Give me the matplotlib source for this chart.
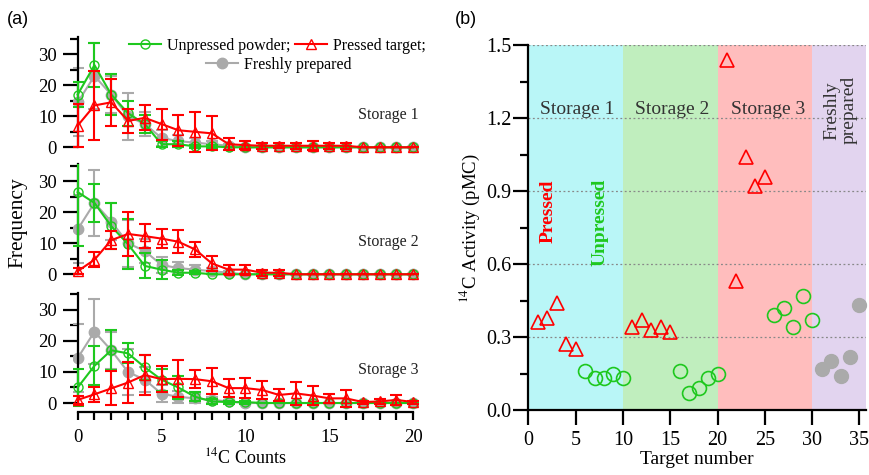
import numpy as np
import matplotlib
matplotlib.use("Agg")
import matplotlib.pyplot as plt
from matplotlib.ticker import MultipleLocator, FormatStrFormatter
from matplotlib.lines import Line2D

plt.rcParams['font.family'] = ['Liberation Serif', 'DejaVu Serif']
plt.rcParams['mathtext.fontset'] = 'stix'

# ---------------- data: panel (a) ----------------
counts = np.arange(21)

unp_s1 = [17, 26.5, 17, 11, 7.5, 1, 1, 0.3, 0.3, 0, 0, 0, 0, 0, 0, 0, 0, 0, 0, 0, 0]
unp_s1_err = [4, 7, 6.5, 4, 3, 1, 1, 0.5, 0.5, 0, 0, 0, 0, 0, 0, 0, 0, 0, 0, 0, 0]
pre_s1 = [7, 13.5, 14.5, 8.5, 9.5, 7.5, 5.5, 5, 4.5, 1, 0.7, 0.5, 0.5, 0.5, 0.5, 0.5, 0.5, 0, 0, 0, 0]
pre_s1_err = [7, 11, 7.5, 4, 4, 5, 5, 6.5, 5.5, 2, 1.3, 1, 0.8, 1, 1.5, 1, 1, 0, 0, 0, 0]

unp_s2 = [26.5, 23, 15.5, 9.7, 2.7, 1.5, 0.5, 0.5, 0, 0, 0, 0, 0, 0, 0, 0, 0, 0, 0, 0, 0]
unp_s2_err = [17.5, 6, 7.5, 8, 4, 3, 0.8, 0.5, 0, 0, 0, 0, 0, 0, 0, 0, 0, 0, 0, 0, 0]
pre_s2 = [1, 4.7, 11, 13, 12.3, 11.5, 10.5, 8, 3.5, 1.5, 1.5, 0.5, 0.5, 0, 0, 0, 0, 0, 0, 0, 0]
pre_s2_err = [1, 2.4, 3, 7, 3.8, 3, 3.7, 2.5, 2.3, 1.5, 1.5, 1, 1, 0, 0, 0, 0, 0, 0, 0, 0]

unp_s3 = [5, 12, 17, 16, 11.5, 7.5, 5, 2, 0.5, 0.3, 0.3, 0, 0, 0, 0, 0, 0, 0, 0, 0, 0]
unp_s3_err = [6, 6.3, 6.5, 3.2, 4, 3.5, 3.7, 1.5, 0.8, 0.5, 0.5, 0, 0, 0, 0, 0, 0, 0, 0, 0, 0]
pre_s3 = [1, 2.8, 4.7, 6.6, 9, 7.7, 7.8, 7.7, 7, 4.8, 4.8, 4.2, 2.6, 3.1, 2.4, 1.5, 1.5, 0.3, 0.5, 1, 0.3]
pre_s3_err = [1.2, 2.5, 5.5, 6.5, 6.5, 4.2, 6, 3, 4.2, 3, 3.3, 3, 2, 3.7, 3, 1.5, 2.7, 0.5, 0.8, 1.5, 0.5]

fresh = [14.5, 23, 17, 10, 7.5, 3, 2, 1.5, 1, 0.5, 0, 0, 0, 0, 0, 0, 0, 0, 0, 0, 0]
fresh_err = [11, 10.5, 6, 7.5, 4, 2.7, 2, 1.5, 1, 0.5, 0, 0, 0, 0, 0, 0, 0, 0, 0, 0, 0]

storage_names = ['Storage 1', 'Storage 2', 'Storage 3']

# ---------------- data: panel (b) ----------------
pressed_x = [1, 2, 3, 4, 5, 11, 12, 13, 14, 15, 21, 22, 23, 24, 25]
pressed_y = [0.36, 0.38, 0.44, 0.27, 0.25, 0.34, 0.37, 0.33, 0.34, 0.32, 1.44, 0.53, 1.04, 0.92, 0.96]
unpressed_x = [6, 7, 8, 9, 10, 16, 17, 18, 19, 20, 26, 27, 28, 29, 30]
unpressed_y = [0.16, 0.13, 0.13, 0.15, 0.13, 0.16, 0.07, 0.09, 0.13, 0.15, 0.39, 0.42, 0.34, 0.47, 0.37]
fresh_x = [31, 32, 33, 34, 35]
fresh_y = [0.17, 0.20, 0.14, 0.22, 0.43]

band_edges = [0, 10, 20, 30, 35.7]
band_colors = ['#b9f6f7', '#c0eebe', '#ffbdbd', '#e2d4ef']
band_labels = ['Storage 1', 'Storage 2', 'Storage 3', 'Freshly\nprepared']

green = '#1ec81e'
red = '#ff0000'
grey = '#aaaaaa'

fig = plt.figure(figsize=(8.69, 4.75), dpi=100)

# ---------------- panel (a) ----------------
panel_bottoms = [0.6768, 0.4095, 0.1385]
series = [(unp_s1, unp_s1_err, pre_s1, pre_s1_err),
          (unp_s2, unp_s2_err, pre_s2, pre_s2_err),
          (unp_s3, unp_s3_err, pre_s3, pre_s3_err)]

left_axes = []
for i, (unp, unp_err, pre, pre_err) in enumerate(series):
    ax = fig.add_axes([0.0836, panel_bottoms[i], 0.3977, 0.2449])
    left_axes.append(ax)
    kw = dict(capsize=4.5, lw=1.5, elinewidth=1.5, capthick=1.5)
    ax.errorbar(counts, fresh, yerr=fresh_err, color=grey, marker='o', ms=7.5,
                mfc=grey, mec=grey, zorder=2, **kw)
    ax.errorbar(counts, unp, yerr=unp_err, color=green, marker='o', ms=6.5,
                mfc='none', mec=green, zorder=3, **kw)
    ax.errorbar(counts, pre, yerr=pre_err, color=red, marker='^', ms=6.5,
                mfc='none', mec=red, zorder=4, **kw)
    ax.set_xlim(-0.3, 20.3)
    ax.set_ylim(-2, 35.5)
    ax.spines['left'].set_position(('data', 0))
    ax.spines['left'].set_bounds(0, 35.5)
    for s in ['top', 'right']:
        ax.spines[s].set_visible(False)
    ax.spines['left'].set_linewidth(1.6)
    ax.yaxis.set_major_locator(MultipleLocator(10))
    ax.yaxis.set_minor_locator(MultipleLocator(5))
    ax.tick_params(axis='y', which='major', direction='out', length=11, width=1.6,
                   labelsize=13.5, pad=4)
    ax.tick_params(axis='y', which='minor', direction='out', length=6, width=1.6)
    ax.text(1.0, 10.5, storage_names[i], transform=ax.get_yaxis_transform(),
            ha='right', va='center', fontsize=11.5, color='#222222')
    if i < 2:
        ax.spines['bottom'].set_visible(False)
        ax.tick_params(axis='x', which='both', bottom=False, labelbottom=False)
    else:
        ax.spines['bottom'].set_position(('outward', 2))
        ax.spines['bottom'].set_bounds(0, 20)
        ax.spines['bottom'].set_linewidth(1.6)
        ax.xaxis.set_major_locator(MultipleLocator(5))
        ax.xaxis.set_minor_locator(MultipleLocator(1))
        ax.tick_params(axis='x', which='both', direction='out', length=6, width=1.6,
                       labelsize=13.5, pad=6)
        ax.set_xlabel('$^{14}$C Counts', fontsize=13, labelpad=1)

left_axes[1].set_ylabel('Frequency', fontsize=15.5, labelpad=8)

h_unp = Line2D([], [], color=green, marker='o', mfc='none', mec=green, lw=1.5, ms=6.5)
h_pre = Line2D([], [], color=red, marker='^', mfc='none', mec=red, lw=1.5, ms=6.5)
h_fre = Line2D([], [], color=grey, marker='o', mfc=grey, mec=grey, lw=1.5, ms=7.5)
fig.legend([h_unp, h_pre], ['Unpressed powder;', 'Pressed target;'], ncol=2,
           loc='center left', bbox_to_anchor=(0.139, 0.903), frameon=False,
           fontsize=11.5, borderpad=0, handlelength=2.0, handletextpad=0.4,
           columnspacing=0.25)
fig.legend([h_fre], ['Freshly prepared'], loc='center left',
           bbox_to_anchor=(0.228, 0.863), frameon=False, fontsize=11.5,
           borderpad=0, handlelength=2.0, handletextpad=0.4)

# ---------------- panel (b) ----------------
axb = fig.add_axes([0.608, 0.1368, 0.3886, 0.7678])
for j in range(4):
    axb.axvspan(band_edges[j], band_edges[j + 1], color=band_colors[j], lw=0, zorder=0)
for yv in [0.3, 0.6, 0.9, 1.2, 1.5]:
    axb.axhline(yv, color='#888888', lw=0.9, ls=(0, (1.5, 2)), zorder=1)
axb.plot(pressed_x, pressed_y, ls='none', marker='^', ms=10, mfc='none', mec=red,
         mew=1.2, zorder=3)
axb.plot(unpressed_x, unpressed_y, ls='none', marker='o', ms=10, mfc='none', mec=green,
         mew=1.2, zorder=3)
axb.plot(fresh_x, fresh_y, ls='none', marker='o', ms=10, mfc=grey, mec=grey, zorder=3,
         clip_on=False)
axb.set_xlim(0, 35.7)
axb.set_ylim(0, 1.5)
for s in ['top', 'right']:
    axb.spines[s].set_visible(False)
for s in ['left', 'bottom']:
    axb.spines[s].set_linewidth(1.6)
axb.xaxis.set_major_locator(MultipleLocator(5))
axb.yaxis.set_major_locator(MultipleLocator(0.3))
axb.yaxis.set_minor_locator(MultipleLocator(0.15))
axb.yaxis.set_major_formatter(FormatStrFormatter('%.1f'))
axb.tick_params(which='major', direction='out', length=11, width=1.6, labelsize=14.5, pad=1)
axb.tick_params(axis='x', which='major', pad=4)
axb.tick_params(which='minor', direction='out', length=6, width=1.6)
axb.set_xlabel('Target number', fontsize=14, labelpad=1)
axb.set_ylabel('$^{14}$C Activity (pMC)', fontsize=13.5, labelpad=3)

band_centers = [5.2, 15.2, 25.4]
for j in range(3):
    axb.text(band_centers[j], 1.236, band_labels[j], ha='center', va='center',
             fontsize=14, color='#333333', zorder=4)
axb.text(33.0, 1.233, band_labels[3], ha='center', va='center', rotation=90,
         fontsize=14, color='#333333', linespacing=1.0, zorder=4)
axb.text(2.1, 0.95, 'Pressed', rotation=90, ha='center', va='top', color=red,
         fontweight='bold', fontsize=14, zorder=4)
axb.text(7.6, 0.95, 'Unpressed', rotation=90, ha='center', va='top', color=green,
         fontweight='bold', fontsize=14, zorder=4)

fig.text(0.008, 0.958, '(a)', fontsize=13, family='Liberation Sans', va='center')
fig.text(0.523, 0.958, '(b)', fontsize=13, family='Liberation Sans', va='center')

fig.savefig('out.png', dpi=100)
